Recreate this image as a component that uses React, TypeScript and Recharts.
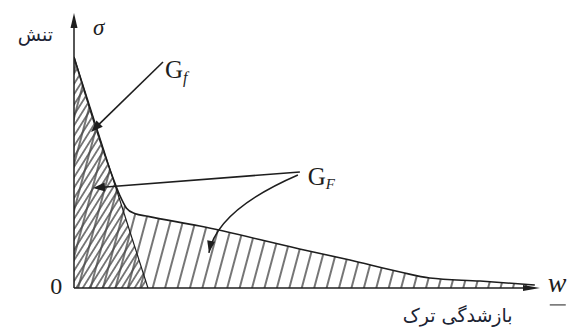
import React from 'react'
import { ComposedChart, Area, XAxis, YAxis, ReferenceLine, ReferenceDot } from 'recharts'

// bilinear softening curve, normalised crack opening w and stress sigma
const softW = [0, 0.5, 0.62, 0.71, 0.82, 1.0, 1.7, 3.05, 3.73, 4.41, 4.81, 5.49, 6.23]
const softS = [1, 0.5, 0.4, 0.345, 0.322, 0.31, 0.268, 0.169, 0.121, 0.069, 0.043, 0.03, 0.013]

// linear softening (initial slope only)
const linW = [0, 1]
const linS = [1, 0]

const wDomain = [0, 6.3]
const sDomain = [0, 1.19]

const softData = softW.map((w, i) => ({ w, s: softS[i] }))
const linData = linW.map((w, i) => ({ w, s: linS[i] }))

const INK = '#1e1e1e'
const SERIF = '"Liberation Serif", "DejaVu Serif", serif'
const PERSIAN = '"DejaVu Sans", sans-serif'

const head = (x1: number, y1: number, x2: number, y2: number, len: number, half: number) => {
  const dx = x2 - x1
  const dy = y2 - y1
  const d = Math.hypot(dx, dy) || 1
  const ux = dx / d
  const uy = dy / d
  const bx = x2 - ux * len
  const by = y2 - uy * len
  return `${x2},${y2} ${bx - uy * half},${by + ux * half} ${bx + uy * half},${by - ux * half}`
}

const arrowShape = (len: number, half: number, width: number) => (p: any) => {
  const { x1, y1, x2, y2 } = p
  const d = Math.hypot(x2 - x1, y2 - y1) || 1
  const ex = x2 - ((x2 - x1) / d) * len * 0.8
  const ey = y2 - ((y2 - y1) / d) * len * 0.8
  return (
    <g>
      <line x1={x1} y1={y1} x2={ex} y2={ey} stroke={INK} strokeWidth={width} />
      <polygon points={head(x1, y1, x2, y2, len, half)} fill={INK} />
    </g>
  )
}

// curved arrow from G_F label down into the hatched area
const curvedArrow = (p: any) => {
  const { x1, y1, x2, y2 } = p
  const cx = x2 + 0.09 * (x1 - x2)
  const cy = y1 + 0.45 * (y2 - y1)
  return (
    <g>
      <path d={`M${x1},${y1} Q${cx},${cy} ${x2},${y2}`} fill="none" stroke={INK} strokeWidth={1.5} />
      <polygon points={head(cx, cy, x2, y2, 12, 4)} fill={INK} />
    </g>
  )
}

const label = (text: React.ReactNode, size: number, extra: any = {}) => (p: any) => (
  <text x={p.cx} y={p.cy} fontFamily={SERIF} fontSize={size} fill={INK} {...extra}>
    {text}
  </text>
)

const wLabel = (p: any) => (
  <g>
    <text x={p.cx} y={p.cy} fontFamily={SERIF} fontStyle="italic" fontSize={28} fill={INK}>
      w
    </text>
    <line x1={p.cx + 2} y1={p.cy + 13} x2={p.cx + 18} y2={p.cy + 13} stroke={INK} strokeWidth={1} />
  </g>
)

export default function App() {
  return (
    <div style={{ position: 'absolute', left: 0, top: 0, width: 571, height: 329, background: '#fff' }}>
      <ComposedChart width={571} height={329} margin={{ top: 13, right: 31, bottom: 41, left: 74 }}>
        <defs>
          <pattern id="hatchF" width="12" height="12" patternUnits="userSpaceOnUse" patternTransform="rotate(15)">
            <line x1="6" y1="0" x2="6" y2="12" stroke="#2a2a2a" strokeWidth="1.3" />
          </pattern>
          <pattern id="hatchf" width="5.5" height="5.5" patternUnits="userSpaceOnUse" patternTransform="rotate(32)">
            <line x1="2.75" y1="0" x2="2.75" y2="5.5" stroke="#4a4a4a" strokeWidth="1.4" />
          </pattern>
        </defs>
        <XAxis type="number" dataKey="w" domain={wDomain} allowDataOverflow hide />
        <YAxis type="number" dataKey="s" domain={sDomain} allowDataOverflow hide />

        <Area
          data={softData}
          dataKey="s"
          type="monotone"
          stroke={INK}
          strokeWidth={1.6}
          fill="url(#hatchF)"
          fillOpacity={1}
          dot={false}
          activeDot={false}
          isAnimationActive={false}
        />
        <Area
          data={linData}
          dataKey="s"
          type="linear"
          stroke={INK}
          strokeWidth={1.2}
          fill="url(#hatchf)"
          fillOpacity={1}
          dot={false}
          activeDot={false}
          isAnimationActive={false}
        />

        {/* axes */}
        <ReferenceLine segment={[{ x: 0, y: 0 }, { x: 0, y: 1.19 }]} ifOverflow="visible" shape={arrowShape(15, 3.5, 1.5)} />
        <ReferenceLine segment={[{ x: 0, y: 0 }, { x: 6.3, y: 0 }]} ifOverflow="visible" shape={arrowShape(17, 3, 1.5)} />

        {/* pointers */}
        <ReferenceLine segment={[{ x: 1.203, y: 0.978 }, { x: 0.23, y: 0.675 }]} ifOverflow="visible" shape={arrowShape(12, 4.5, 1.6)} />
        <ReferenceLine segment={[{ x: 3.054, y: 0.502 }, { x: 0.257, y: 0.433 }]} ifOverflow="visible" shape={arrowShape(12, 4.5, 1.6)} />
        <ReferenceLine segment={[{ x: 3.027, y: 0.489 }, { x: 1.824, y: 0.152 }]} ifOverflow="visible" shape={curvedArrow} />

        {/* text */}
        <ReferenceDot x={0.257} y={1.095} ifOverflow="visible" shape={label('σ', 23, { fontStyle: 'italic' })} />
        <ReferenceDot
          x={-0.284}
          y={1.07}
          ifOverflow="visible"
          shape={(p: any) => (
            <text x={p.cx} y={p.cy} fontFamily={PERSIAN} fontSize={19} fill="#1b2333" textAnchor="end">
              تنش
            </text>
          )}
        />
        <ReferenceDot
          x={1.23}
          y={0.909}
          ifOverflow="visible"
          shape={label(
            <>
              G
              <tspan fontStyle="italic" fontSize={16} dy={5}>
                f
              </tspan>
            </>,
            25
          )}
        />
        <ReferenceDot
          x={3.16}
          y={0.446}
          ifOverflow="visible"
          shape={label(
            <>
              G
              <tspan fontStyle="italic" fontSize={15} dy={4}>
                F
              </tspan>
            </>,
            25
          )}
        />
        <ReferenceDot x={-0.16} y={-0.026} ifOverflow="visible" shape={label('0', 24, { textAnchor: 'end' })} />
        <ReferenceDot x={6.405} y={-0.017} ifOverflow="visible" shape={wLabel} />
        <ReferenceDot
          x={5.93}
          y={-0.147}
          ifOverflow="visible"
          shape={(p: any) => (
            <text x={p.cx} y={p.cy} fontFamily={PERSIAN} fontSize={19} fill="#1b2333" textAnchor="end">
              بازشدگی ترک
            </text>
          )}
        />
      </ComposedChart>
    </div>
  )
}
